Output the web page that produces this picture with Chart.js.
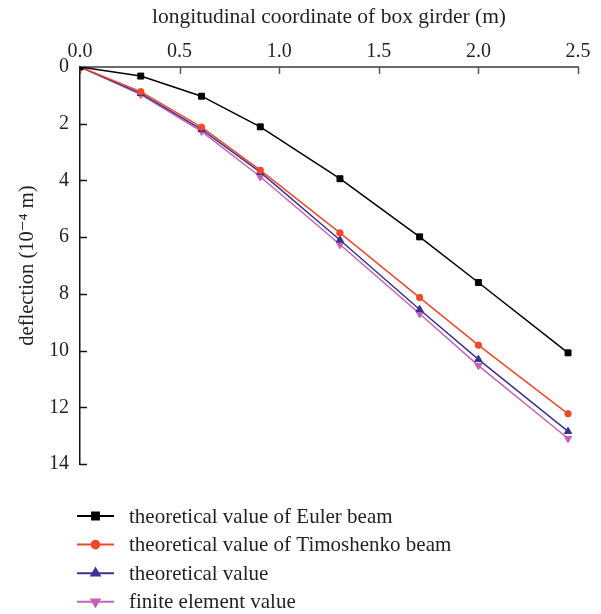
<!DOCTYPE html>
<html>
<head>
<meta charset="utf-8">
<title>Deflection of box girder</title>
<script src="https://cdn.jsdelivr.net/npm/chart.js@4.4.1/dist/chart.umd.min.js"></script>
<style>
  html, body { margin: 0; padding: 0; background: #fff; }
  #wrap { width: 601px; height: 614px; }
</style>
</head>
<body>
<div id="wrap"><canvas id="deflectionChart" width="601" height="614"></canvas></div>
<script>
// Chart data (deflection in 10^-4 m along the girder)
const positions = [0, 0.305, 0.61, 0.905, 1.305, 1.705, 2.0, 2.45];
const eulerBeam = [0, 0.32, 1.03, 2.11, 3.94, 5.99, 7.6, 10.08];
const timoshenkoBeam = [0, 0.87, 2.12, 3.64, 5.85, 8.13, 9.81, 12.23];
const theoreticalValue = [0, 0.93, 2.2, 3.71, 6.1, 8.55, 10.31, 12.85];
const finiteElement = [0, 0.97, 2.27, 3.87, 6.26, 8.7, 10.53, 13.1];

const xTicks = [0, 0.5, 1.0, 1.5, 2.0, 2.5];
const yTicks = [0, 2, 4, 6, 8, 10, 12, 14];

const seriesNames = [
  'theoretical value of Euler beam',
  'theoretical value of Timoshenko beam',
  'theoretical value',
  'finite element value'
];

const FONT = '"Liberation Serif", "DejaVu Serif", serif';
const TEXT_COLOR = '#231f20';

// Helper to turn a series into {x, y} points
function toPoints(values) {
  return values.map((v, i) => ({ x: positions[i], y: v }));
}

function makeDataset(label, values, color, style, radius, rotation) {
  return {
    label: label,
    data: toPoints(values),
    borderColor: color,
    backgroundColor: color,
    borderWidth: 1.5,
    pointStyle: style,
    pointRadius: radius,
    pointRotation: rotation || 0,
    pointBorderWidth: 1,
    pointBackgroundColor: color,
    pointBorderColor: color,
    tension: 0,
    fill: false
  };
}

// Tick marks pointing into the plot area
const innerTicks = {
  id: 'innerTicks',
  beforeDatasetsDraw(chart) {
    const ctx = chart.ctx;
    const area = chart.chartArea;
    const xs = chart.scales.x;
    const ys = chart.scales.y;
    ctx.save();
    ctx.lineWidth = 1.5;
    ctx.strokeStyle = '#555';
    xTicks.forEach(v => {
      const px = Math.round(xs.getPixelForValue(v)) + 0.5;
      ctx.beginPath();
      ctx.moveTo(px, area.top);
      ctx.lineTo(px, area.top + 7);
      ctx.stroke();
    });
    ctx.strokeStyle = '#111';
    yTicks.forEach(v => {
      if (v === 0) return;
      const py = Math.round(ys.getPixelForValue(v)) + 0.5;
      ctx.beginPath();
      ctx.moveTo(area.left, py);
      ctx.lineTo(area.left + 7, py);
      ctx.stroke();
    });
    ctx.restore();
  }
};

// Legend stacked under the plot
const stackedLegend = {
  id: 'stackedLegend',
  afterDraw(chart) {
    const ctx = chart.ctx;
    ctx.save();
    ctx.font = '21px ' + FONT;
    ctx.textBaseline = 'middle';
    ctx.textAlign = 'left';
    chart.data.datasets.forEach((ds, i) => {
      const y = 516 + i * 28.6;
      ctx.strokeStyle = ds.borderColor;
      ctx.fillStyle = ds.backgroundColor;
      ctx.lineWidth = 2;
      ctx.beginPath();
      ctx.moveTo(77, y);
      ctx.lineTo(114, y);
      ctx.stroke();
      Chart.helpers.drawPoint(ctx, {
        pointStyle: ds.pointStyle,
        rotation: ds.pointRotation,
        radius: ds.pointRadius + 0.6,
        borderWidth: 1
      }, 95.5, y);
      ctx.fillStyle = TEXT_COLOR;
      ctx.fillText(ds.label, 129, y + 1);
    });
    ctx.restore();
  }
};

const ctx = document.getElementById('deflectionChart').getContext('2d');
new Chart(ctx, {
  type: 'line',
  data: {
    datasets: [
      makeDataset(seriesNames[0], eulerBeam, '#000000', 'rect', 4.2),
      makeDataset(seriesNames[1], timoshenkoBeam, '#f1482a', 'circle', 3.2),
      makeDataset(seriesNames[2], theoreticalValue, '#3a3391', 'triangle', 4.2),
      makeDataset(seriesNames[3], finiteElement, '#c463b4', 'triangle', 4.2, 180)
    ]
  },
  options: {
    responsive: false,
    animation: false,
    devicePixelRatio: 1,
    layout: { padding: { left: 0, right: 23, top: 0, bottom: 150 } },
    plugins: {
      legend: { display: false },
      tooltip: { enabled: false }
    },
    scales: {
      x: {
        type: 'linear',
        position: 'top',
        min: 0,
        max: 2.5,
        afterBuildTicks: s => { s.ticks = xTicks.map(v => ({ value: v })); },
        afterFit: s => { s.height = 67; },
        grid: { display: false, drawTicks: false },
        border: { display: true, color: '#6b6b6b', width: 2 },
        ticks: {
          padding: 3,
          maxRotation: 0,
          color: TEXT_COLOR,
          font: { family: FONT, size: 20 },
          callback: v => v.toFixed(1)
        },
        title: {
          display: true,
          text: 'longitudinal coordinate of box girder (m)',
          color: TEXT_COLOR,
          font: { family: FONT, size: 21.5 },
          padding: { top: 4, bottom: 0 }
        }
      },
      y: {
        type: 'linear',
        position: 'left',
        reverse: true,
        min: 0,
        max: 14,
        afterBuildTicks: s => { s.ticks = yTicks.map(v => ({ value: v })); },
        afterFit: s => { s.width = 80; },
        grid: { display: false, drawTicks: false },
        border: { display: true, color: '#111111', width: 1.5 },
        ticks: {
          padding: 11,
          color: TEXT_COLOR,
          font: { family: FONT, size: 20 },
          callback: v => String(v)
        },
        title: {
          display: true,
          text: 'deflection (10\u207B\u2074 m)',
          color: TEXT_COLOR,
          font: { family: FONT, size: 20.5 },
          padding: { top: 15, bottom: 0 }
        }
      }
    }
  },
  plugins: [innerTicks, stackedLegend]
});
</script>
</body>
</html>
